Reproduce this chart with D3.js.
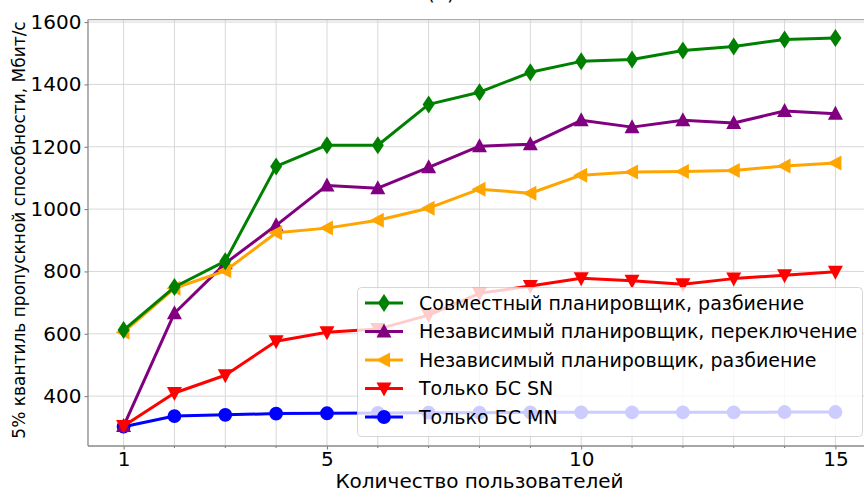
<!DOCTYPE html>
<html>
<head>
<meta charset="utf-8">
<script src="https://cdn.jsdelivr.net/npm/d3@7"></script>
<style>
  html, body { margin: 0; padding: 0; background: #fff; }
  svg { display: block; font-family: "DejaVu Sans", sans-serif; }
</style>
</head>
<body>
<svg id="chart" width="864" height="491"></svg>
<script>
// Number of users on the x axis
const users = [1, 2, 3, 4, 5, 6, 7, 8, 9, 10, 11, 12, 13, 14, 15];

// 5th-percentile throughput, Mbit/s
const jointSplit   = [612, 750, 833, 1137, 1205, 1205, 1336, 1375, 1439, 1474, 1480, 1509, 1522, 1544, 1549];
const indepSwitch  = [304, 666, 826, 948, 1076, 1067, 1134, 1202, 1208, 1285, 1263, 1285, 1276, 1315, 1306];
const indepSplit   = [605, 746, 802, 924, 939, 964, 1003, 1064, 1051, 1109, 1119, 1121, 1124, 1138, 1148];
const onlySN       = [304, 410, 467, 576, 605, 615, 660, 730, 753, 778, 770, 759, 777, 788, 799];
const onlyMN       = [302, 336, 340, 344, 345, 346, 347, 347, 348, 348, 348, 348, 348, 349, 349];

const seriesNames = [
  "Совместный планировщик, разбиение",
  "Независимый планировщик, переключение",
  "Независимый планировщик, разбиение",
  "Только БС SN",
  "Только БС MN"
];

const xTicks = [1, 5, 10, 15];
const yTicks = [400, 600, 800, 1000, 1200, 1400, 1600];

const series = [
  { name: seriesNames[0], values: jointSplit,  color: "green",  marker: "diamond" },
  { name: seriesNames[1], values: indepSwitch, color: "purple", marker: "up" },
  { name: seriesNames[2], values: indepSplit,  color: "orange", marker: "left" },
  { name: seriesNames[3], values: onlySN,      color: "red",    marker: "down" },
  { name: seriesNames[4], values: onlyMN,      color: "blue",   marker: "circle" }
];
// paint order (bottom to top)
const drawOrder = [4, 1, 2, 0, 3];

const svg = d3.select("#chart");
const plotLeft = 88, plotRight = 871, plotTop = 19.6, plotBottom = 446;

const x = d3.scaleLinear().domain([0.3, 15.7]).range([plotLeft, plotRight]);
const y = d3.scaleLinear().domain([240, 1608]).range([plotBottom, plotTop]);

// grid
const grid = svg.append("g");
grid.selectAll("line.gx").data(users).join("line")
  .attr("x1", d => x(d)).attr("x2", d => x(d))
  .attr("y1", plotTop).attr("y2", plotBottom)
  .attr("stroke", "#d8d8d8").attr("stroke-width", 1);
grid.selectAll("line.gy").data(yTicks).join("line")
  .attr("x1", plotLeft).attr("x2", plotRight)
  .attr("y1", d => y(d)).attr("y2", d => y(d))
  .attr("stroke", "#d8d8d8").attr("stroke-width", 1);

// axes
const xAxis = d3.axisBottom(x).tickValues(xTicks).tickFormat(d3.format("d")).tickSize(3.5).tickPadding(2);
const yAxis = d3.axisLeft(y).tickValues(yTicks).tickFormat(d3.format("d")).tickSize(3.5).tickPadding(3);
const gx = svg.append("g").attr("transform", `translate(0,${plotBottom})`).call(xAxis);
const gy = svg.append("g").attr("transform", `translate(${plotLeft},0)`).call(yAxis);
[gx, gy].forEach(g => {
  g.select(".domain").remove();
  g.selectAll(".tick line").attr("stroke", "#777");
  g.selectAll(".tick text").attr("font-size", 20).attr("fill", "#000")
    .attr("font-family", "DejaVu Sans, sans-serif");
});
// minor x ticks
svg.append("g").selectAll("line").data(users.filter(u => !xTicks.includes(u))).join("line")
  .attr("x1", d => x(d)).attr("x2", d => x(d))
  .attr("y1", plotBottom).attr("y2", plotBottom + 2)
  .attr("stroke", "#777");

// frame
svg.append("line").attr("x1", plotLeft).attr("x2", plotLeft).attr("y1", plotTop).attr("y2", plotBottom)
  .attr("stroke", "#888").attr("stroke-width", 1.3);
svg.append("line").attr("x1", plotLeft).attr("x2", plotRight).attr("y1", plotBottom).attr("y2", plotBottom)
  .attr("stroke", "#888").attr("stroke-width", 1.3);
svg.append("line").attr("x1", plotLeft).attr("x2", plotRight).attr("y1", plotTop).attr("y2", plotTop)
  .attr("stroke", "#aaa").attr("stroke-width", 1.3);

// marker shapes
function markerPath(type) {
  switch (type) {
    case "diamond": return "M0,-9L6,0L0,9L-6,0Z";
    case "up":      return "M0,-8L7.5,6L-7.5,6Z";
    case "down":    return "M0,8L7.5,-6L-7.5,-6Z";
    case "left":    return "M-8,0L6,-7.5L6,7.5Z";
    case "circle":  return d3.symbol(d3.symbolCircle, 150)();
  }
}

const line = d3.line().x((d, i) => x(users[i])).y(d => y(d));
const plot = svg.append("g");
drawOrder.forEach(k => {
  const s = series[k];
  const g = plot.append("g");
  g.append("path").attr("d", line(s.values))
    .attr("fill", "none").attr("stroke", s.color).attr("stroke-width", 3)
    .attr("stroke-linejoin", "round");
  g.selectAll("path.m").data(s.values).join("path")
    .attr("class", "m")
    .attr("d", markerPath(s.marker))
    .attr("transform", (d, i) => `translate(${x(users[i])},${y(d)})`)
    .attr("fill", s.color);
});

// legend
const lg = svg.append("g");
lg.append("rect").attr("x", 357.5).attr("y", 287.5).attr("width", 505).attr("height", 149)
  .attr("rx", 4).attr("fill", "#fff").attr("fill-opacity", 0.8)
  .attr("stroke", "#ccc").attr("stroke-opacity", 0.8);
series.forEach((s, i) => {
  const cy = 303 + i * 28.5;
  lg.append("line").attr("x1", 365).attr("x2", 403).attr("y1", cy).attr("y2", cy)
    .attr("stroke", s.color).attr("stroke-width", 3);
  lg.append("path").attr("d", markerPath(s.marker))
    .attr("transform", `translate(384,${cy})`).attr("fill", s.color);
  lg.append("text").attr("x", 419).attr("y", cy).attr("dy", "0.36em")
    .attr("font-size", 19).attr("fill", "#000").text(s.name);
});

// axis titles
svg.append("text").attr("x", (plotLeft + plotRight) / 2).attr("y", 488)
  .attr("text-anchor", "middle").attr("font-size", 20).text("Количество пользователей");
svg.append("text").attr("transform", `translate(25,${(12 + 448) / 2}) rotate(-90)`)
  .attr("text-anchor", "middle").attr("font-size", 17)
  .text("5% квантиль пропускной способности, Мбит/с");

// panel title, mostly above the top edge
svg.append("text").attr("x", 441).attr("y", -0.5).attr("text-anchor", "middle")
  .attr("font-size", 20).text("(а)");
</script>
</body>
</html>
